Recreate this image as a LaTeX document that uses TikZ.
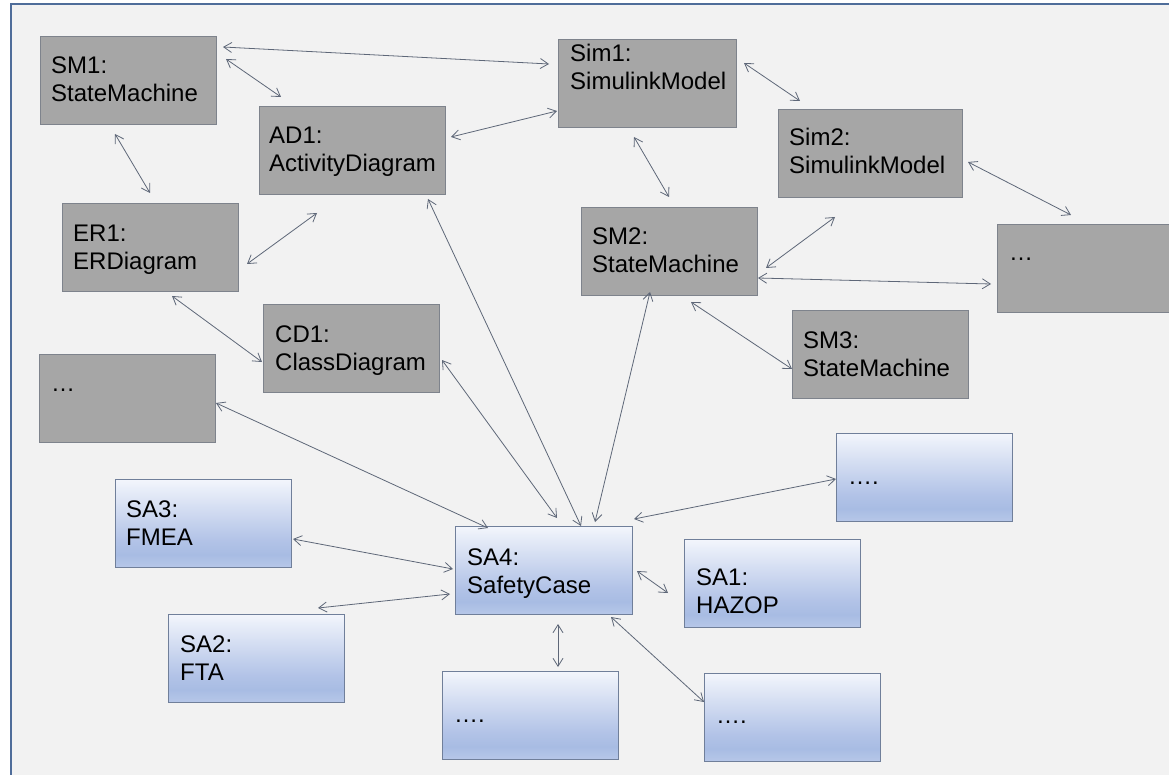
\documentclass[tikz,border=0pt]{standalone}
\usepackage{fontspec}
\setmainfont{Liberation Sans}
\usetikzlibrary{arrows.meta,calc}
\definecolor{bgc}{HTML}{F2F2F2}
\definecolor{framec}{HTML}{4F6D9A}
\definecolor{grayfill}{HTML}{A6A6A6}
\definecolor{grayline}{HTML}{7E838C}
\definecolor{blueline}{HTML}{707F9A}
\definecolor{linec}{HTML}{5E6778}
\definecolor{bA}{HTML}{B6C7E8}
\definecolor{bB}{HTML}{A8BCE3}
\definecolor{bC}{HTML}{B2C3E7}
\definecolor{bD}{HTML}{C8D4EE}
\definecolor{bE}{HTML}{F3F6FC}
\pgfdeclareverticalshading{bluegrad}{100bp}{color(0bp)=(bA); color(25bp)=(bA); color(32bp)=(bB); color(40bp)=(bC); color(52bp)=(bD); color(75bp)=(bE); color(100bp)=(bE)}
\tikzset{
  gbox/.style={draw=grayline, fill=grayfill, line width=0.9pt, anchor=north west,
    minimum width=176pt, minimum height=88pt, inner sep=0pt, outer sep=0pt},
  bbox/.style={draw=blueline, shade, shading=bluegrad, line width=0.9pt, anchor=north west,
    minimum width=176pt, minimum height=88pt, inner sep=0pt, outer sep=0pt},
  lbl/.style={anchor=base west, align=left, inner sep=0pt, text=black,
    font=\fontsize{24}{28}\selectfont},
  con/.style={draw=linec, line width=0.8pt,
    {Straight Barb[length=8pt,width=10pt]}-{Straight Barb[length=8pt,width=10pt]}}
}
\begin{document}
\begin{tikzpicture}[x=1pt,y=-1pt]
\useasboundingbox (0,0) rectangle (1169,775);
\clip (0,0) rectangle (1169,775);
\fill[white] (0,0) rectangle (1169,775);
\fill[bgc] (11,4) rectangle (1169,775);
\draw[framec, line width=1.3pt] (11,775) -- (11,4) -- (1169,4);

% gray boxes
\node[gbox] (sm1) at (40,36) {};
\node[gbox, minimum width=186pt] (ad1) at (259,106) {};
\node[gbox] (er1) at (62,203) {};
\node[gbox, minimum width=178pt] (sim1) at (558,39) {};
\node[gbox, minimum width=184pt] (sim2) at (778,109) {};
\node[gbox] (sm2) at (581,207) {};
\node[gbox, minimum width=185pt] (dotsr) at (997,224) {};
\node[gbox] (sm3) at (792,310) {};
\node[gbox] (cd1) at (263,304) {};
\node[gbox] (dotsl) at (39,354) {};
% blue boxes
\node[bbox] (sa3) at (115,479) {};
\node[bbox] (sa2) at (168,614) {};
\node[bbox, minimum width=177pt] (sa4) at (455,526) {};
\node[bbox] (sa1) at (684,539) {};
\node[bbox] (bluetr) at (836,433) {};
\node[bbox] (bluebc) at (442,671) {};
\node[bbox] (bluebr) at (704,673) {};

% labels (base = baseline of the last line)
\node[lbl] (sm1t) at ([shift={(11,66)}]sm1.north west) {SM1:\\StateMachine};
\node[lbl] (ad1t) at ([shift={(10,66)}]ad1.north west) {AD1:\\ActivityDiagram};
\node[lbl] (er1t) at ([shift={(11,67)}]er1.north west) {ER1:\\ERDiagram};
\node[lbl] (sim1t) at ([shift={(12,51)}]sim1.north west) {Sim1:\\SimulinkModel};
\node[lbl] (sim2t) at ([shift={(11,65)}]sim2.north west) {Sim2:\\SimulinkModel};
\node[lbl] (sm2t) at ([shift={(11,66)}]sm2.north west) {SM2:\\StateMachine};
\node[lbl] (dotsrt) at ([shift={(12,37)}]dotsr.north west) {…};
\node[lbl] (sm3t) at ([shift={(11,66)}]sm3.north west) {SM3:\\StateMachine};
\node[lbl] (cd1t) at ([shift={(12,66)}]cd1.north west) {CD1:\\ClassDiagram};
\node[lbl] (dotslt) at ([shift={(12,37)}]dotsl.north west) {…};
\node[lbl] (sa3t) at ([shift={(11,66)}]sa3.north west) {SA3:\\FMEA};
\node[lbl] (sa2t) at ([shift={(12,66)}]sa2.north west) {SA2:\\FTA};
\node[lbl] (sa4t) at ([shift={(12,67)}]sa4.north west) {SA4:\\SafetyCase};
\node[lbl] (sa1t) at ([shift={(12,74)}]sa1.north west) {SA1:\\HAZOP};
\node[lbl] (bluetrt) at ([shift={(12,51)}]bluetr.north west) {….};
\node[lbl] (bluebct) at ([shift={(12,51)}]bluebc.north west) {….};
\node[lbl] (bluebrt) at ([shift={(12,50)}]bluebr.north west) {….};

% connectors
\draw[con] ([shift={(7,11)}]sm1.north east) -- ([shift={(-9,25)}]sim1.north west);
\draw[con] ([shift={(10,23)}]sm1.north east) -- ([shift={(22,-9)}]ad1.north west);
\draw[con] ([shift={(75,10)}]sm1.south west) -- ([shift={(88,-10)}]er1.north west);
\draw[con] ([shift={(9,61)}]er1.north east) -- ([shift={(58,19)}]ad1.south west);
\draw[con] ([shift={(6,31)}]ad1.north east) -- ([shift={(-1,-16)}]sim1.south west);
\draw[con] ([shift={(8,24)}]sim1.north east) -- ([shift={(22,-8)}]sim2.north west);
\draw[con] ([shift={(76,10)}]sim1.south west) -- ([shift={(88,-10)}]sm2.north west);
\draw[con] ([shift={(9,61)}]sm2.north east) -- ([shift={(57,20)}]sim2.south west);
\draw[con] ([shift={(1,-17)}]sm2.south east) -- ([shift={(-6,60)}]dotsr.north west);
\draw[con] ([shift={(6,53)}]sim2.north east) -- ([shift={(74,-9)}]dotsr.north west);
\draw[con] ([shift={(110,5)}]er1.south west) -- ([shift={(-1,58)}]cd1.north west);
\draw[con] ([shift={(3,56)}]cd1.north east) -- ([shift={(102,-8)}]sa4.north west);
\draw[con] ([shift={(-17,5)}]ad1.south east) -- ([shift={(126,0)}]sa4.north west);
\draw[con] ([shift={(69,-3)}]sm2.south west) -- ([shift={(140,-4)}]sa4.north west);
\draw[con] ([shift={(110,7)}]sm2.south west) -- ([shift={(0,59)}]sm3.north west);
\draw[con] ([shift={(1,49)}]dotsl.north east) -- ([shift={(33,2)}]sa4.north west);
\draw[con] ([shift={(2,60)}]sa3.north east) -- ([shift={(-2,43)}]sa4.north west);
\draw[con] ([shift={(150,-6)}]sa2.north west) -- ([shift={(-5,68)}]sa4.north west);
\draw[con] ([shift={(2,-7)}]sa4.north east) -- ([shift={(0,46)}]bluetr.north west);
\draw[con] ([shift={(5,45)}]sa4.north east) -- ([shift={(-16,54)}]sa1.north west);
\draw[con] ([shift={(103,10)}]sa4.south west) -- ([shift={(116,-4)}]bluebc.north west);
\draw[con] ([shift={(-21,3)}]sa4.south east) -- ([shift={(0,29)}]bluebr.north west);
\end{tikzpicture}
\end{document}
